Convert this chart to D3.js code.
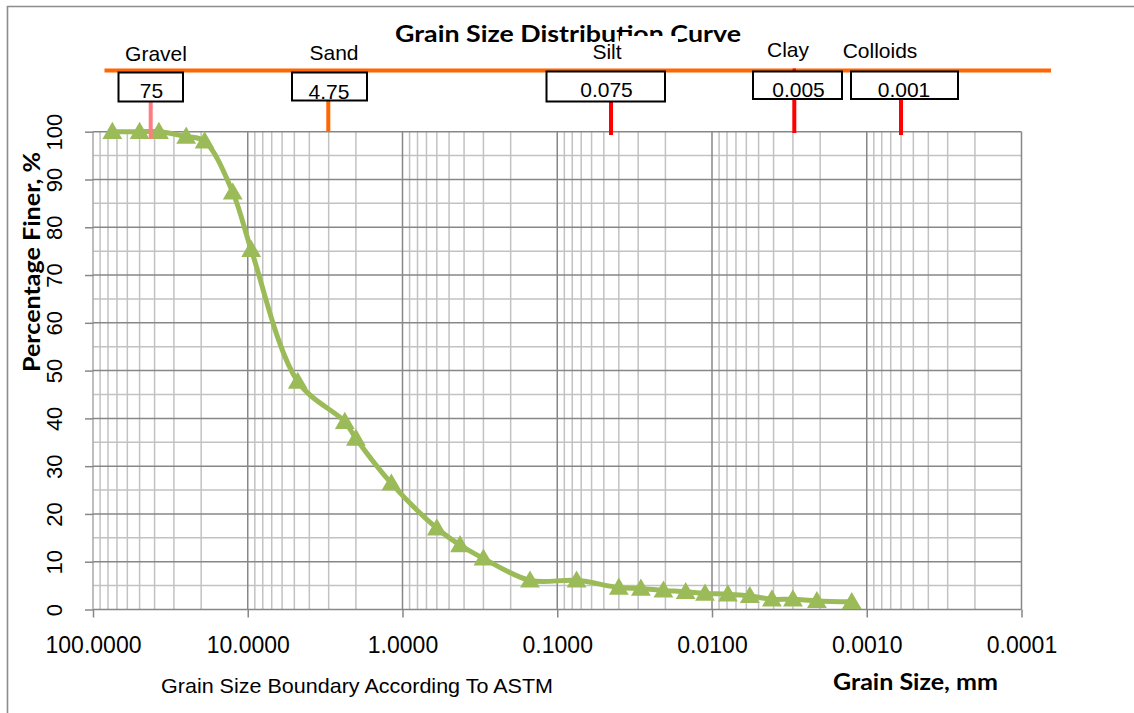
<!DOCTYPE html>
<html>
<head>
<meta charset="utf-8">
<script src="https://cdn.jsdelivr.net/npm/d3@7"></script>
<style>
  html, body { margin: 0; padding: 0; background: #fff; }
  svg { display: block; }
</style>
</head>
<body>
<svg id="chart" width="1134" height="713"></svg>
<script>
// Sieve / hydrometer results: grain size (mm) and percentage passing
const grainSizeMm = [75, 50, 37.5, 25, 19, 12.5, 9.5, 4.75, 2.36, 2.0, 1.18, 0.6, 0.425, 0.3,
  0.15, 0.075, 0.04, 0.0288, 0.0206, 0.0148, 0.0111, 0.0079, 0.0057, 0.0041, 0.003, 0.0021, 0.00125];
const percentFiner = [100, 100, 100, 99, 98, 87.3, 75.3, 47.7, 39.3, 35.8, 26.4, 17, 13.5, 10.7,
  6.1, 6.1, 4.6, 4.4, 4.0, 3.7, 3.35, 3.2, 2.85, 2.15, 2.15, 1.8, 1.6];

// Axis ticks
const xTickValues = [100, 10, 1, 0.1, 0.01, 0.001, 0.0001];
const yTickValues = [0, 10, 20, 30, 40, 50, 60, 70, 80, 90, 100];
const yMinorValues = [5, 15, 25, 35, 45, 55, 65, 75, 85, 95];

// ASTM boundary classes and their limiting sizes
const soilClasses = ["Gravel", "Sand", "Silt", "Clay", "Colloids"];
const boundaryLabels = ["75", "4.75", "0.075", "0.005", "0.001"];

// Placement of the ASTM boundary call-outs above the plot
const classLabelLayout = [
  { cx: 156, y: 61 }, { cx: 334, y: 60 }, { cx: 607, y: 59 }, { cx: 788, y: 57 }, { cx: 880, y: 58 }
];
const boundaryBoxLayout = [
  { x0: 118.5, x1: 183, y0: 72.5, y1: 101.5, tx: 151.5, ty: 98, lx: 150.7, ly1: 139, color: "#ff7c80" },
  { x0: 292, x1: 367, y0: 72.5, y1: 100.5, tx: 329, ty: 99, lx: 328.3, ly1: 132, color: "#ff6600" },
  { x0: 546.5, x1: 665, y0: 71.5, y1: 101.5, tx: 606.5, ty: 97, lx: 611, ly1: 135, color: "#ff0000" },
  { x0: 753, x1: 842, y0: 71.5, y1: 99, tx: 798.5, ty: 97, lx: 794.3, ly1: 133, color: "#ff0000" },
  { x0: 851, x1: 958, y0: 71.5, y1: 99, tx: 904, ty: 97, lx: 901, ly1: 135, color: "#ff0000" }
];

const svg = d3.select("#chart");
const W = 1134, H = 713;
const plot = { left: 93, right: 1021.5, top: 131.7, bottom: 609.5 };

svg.append("rect").attr("width", W).attr("height", H).attr("fill", "#fff");

// Chart frame
svg.append("path")
  .attr("d", `M7.5,${H} V6.5 H${W}`)
  .attr("fill", "none").attr("stroke", "#8c8c8c").attr("stroke-width", 1.6);

const x = d3.scaleLog().domain([100, 0.0001]).range([plot.left, plot.right]);
const y = d3.scaleLinear().domain([0, 100]).range([plot.bottom, plot.top]);

const MAJOR = "#878787", MINOR = "#c2c2c2";

// Minor vertical grid: 2..9 within each decade
const xMinor = [];
for (let e = -4; e < 2; e++) {
  for (let m = 2; m <= 9; m++) xMinor.push(m * Math.pow(10, e));
}
const grid = svg.append("g");
grid.selectAll("line.xminor").data(xMinor).join("line")
  .attr("x1", d => x(d)).attr("x2", d => x(d))
  .attr("y1", plot.top).attr("y2", plot.bottom)
  .attr("stroke", MINOR).attr("stroke-width", 1.5);
grid.selectAll("line.yminor").data(yMinorValues).join("line")
  .attr("x1", plot.left).attr("x2", plot.right)
  .attr("y1", d => y(d)).attr("y2", d => y(d))
  .attr("stroke", MINOR).attr("stroke-width", 1.5);
grid.selectAll("line.xmajor").data(xTickValues).join("line")
  .attr("x1", d => x(d)).attr("x2", d => x(d))
  .attr("y1", plot.top).attr("y2", plot.bottom)
  .attr("stroke", (d, i) => (i === 0 ? "#a8a8a8" : MAJOR)).attr("stroke-width", 1.5);
grid.selectAll("line.ymajor").data(yTickValues).join("line")
  .attr("x1", plot.left).attr("x2", plot.right)
  .attr("y1", d => y(d)).attr("y2", d => y(d))
  .attr("stroke", MAJOR).attr("stroke-width", 1.5);

// X axis
const xAxis = svg.append("g")
  .attr("transform", `translate(0,${plot.bottom})`)
  .call(d3.axisBottom(x).tickValues(xTickValues).tickSize(8).tickFormat(d3.format(".4f")));
xAxis.select(".domain").remove();
xAxis.selectAll(".tick line").attr("stroke", MAJOR).attr("stroke-width", 1.5);
xAxis.selectAll(".tick text")
  .attr("y", 43.5).attr("dy", 0)
  .attr("font-family", "'Liberation Sans', Arial, sans-serif")
  .attr("font-size", 23).attr("fill", "#000");

// Y axis with labels rotated
const yAxis = svg.append("g")
  .attr("transform", `translate(${plot.left},0)`)
  .call(d3.axisLeft(y).tickValues(yTickValues).tickSize(8));
yAxis.select(".domain").remove();
yAxis.selectAll(".tick line").attr("stroke", MAJOR).attr("stroke-width", 1.5);
yAxis.selectAll(".tick text")
  .attr("transform", "rotate(-90)")
  .attr("x", 0).attr("y", -31).attr("dy", 0)
  .attr("text-anchor", "middle")
  .attr("font-family", "'Liberation Sans', Arial, sans-serif")
  .attr("font-size", 22).attr("fill", "#000");

// Gradation curve
const pts = grainSizeMm.map((d, i) => [d, percentFiner[i]]);
const line = d3.line()
  .x(d => x(d[0])).y(d => y(d[1]))
  .curve(d3.curveCatmullRom.alpha(0.5));
svg.append("path").datum(pts)
  .attr("d", line)
  .attr("fill", "none").attr("stroke", "#9bbb59")
  .attr("stroke-width", 5).attr("stroke-linejoin", "round");

const tri = d3.symbol().type(d3.symbolTriangle).size(170);
svg.append("g").selectAll("path").data(pts).join("path")
  .attr("d", tri)
  .attr("transform", d => `translate(${x(d[0])},${y(d[1]) + 1.5})`)
  .attr("fill", "#9bbb59");

// Title
svg.append("text")
  .attr("x", 395).attr("y", 41.7)
  .attr("textLength", 346).attr("lengthAdjust", "spacingAndGlyphs")
  .attr("font-family", "Lato, 'Open Sans', sans-serif").attr("font-weight", "bold")
  .attr("font-size", 23).attr("fill", "#000")
  .text("Grain Size Distribution Curve");

// Axis titles
svg.append("text")
  .attr("transform", "translate(40,262) rotate(-90)")
  .attr("text-anchor", "middle")
  .attr("textLength", 220).attr("lengthAdjust", "spacingAndGlyphs")
  .attr("font-family", "Lato, 'Open Sans', sans-serif").attr("font-weight", "bold")
  .attr("font-size", 22).attr("fill", "#000")
  .text("Percentage Finer, %");

svg.append("text")
  .attr("x", 833).attr("y", 690)
  .attr("textLength", 165).attr("lengthAdjust", "spacingAndGlyphs")
  .attr("font-family", "Lato, 'Open Sans', sans-serif").attr("font-weight", "bold")
  .attr("font-size", 22).attr("fill", "#000")
  .text("Grain Size, mm");

svg.append("text")
  .attr("x", 161).attr("y", 693)
  .attr("textLength", 392).attr("lengthAdjust", "spacingAndGlyphs")
  .attr("font-family", "'Liberation Sans', Arial, sans-serif")
  .attr("font-size", 21).attr("fill", "#000")
  .text("Grain Size Boundary According To ASTM");

// ASTM boundary call-outs
const ann = svg.append("g");
ann.append("line")
  .attr("x1", 104.5).attr("x2", 1051).attr("y1", 70.5).attr("y2", 70.5)
  .attr("stroke", "#ff6600").attr("stroke-width", 4);

// white text frame behind the Silt label
ann.append("rect").attr("x", 620).attr("y", 36).attr("width", 58).attr("height", 30).attr("fill", "#fff");

ann.selectAll("text.cls").data(soilClasses).join("text")
  .attr("x", (d, i) => classLabelLayout[i].cx).attr("y", (d, i) => classLabelLayout[i].y)
  .attr("text-anchor", "middle")
  .attr("font-family", "'Liberation Sans', Arial, sans-serif")
  .attr("font-size", 21).attr("fill", "#000")
  .text(d => d);

// small red mark where the clay boundary meets the class line
ann.append("line").attr("x1", 794.3).attr("x2", 794.3).attr("y1", 68.5).attr("y2", 72)
  .attr("stroke", "#ff0000").attr("stroke-width", 3.5);

const boxes = ann.selectAll("g.box").data(boundaryLabels).join("g");
boxes.append("line")
  .attr("x1", (d, i) => boundaryBoxLayout[i].lx).attr("x2", (d, i) => boundaryBoxLayout[i].lx)
  .attr("y1", (d, i) => boundaryBoxLayout[i].y1).attr("y2", (d, i) => boundaryBoxLayout[i].ly1)
  .attr("stroke", (d, i) => boundaryBoxLayout[i].color).attr("stroke-width", 4);
boxes.append("rect")
  .attr("x", (d, i) => boundaryBoxLayout[i].x0).attr("y", (d, i) => boundaryBoxLayout[i].y0)
  .attr("width", (d, i) => boundaryBoxLayout[i].x1 - boundaryBoxLayout[i].x0)
  .attr("height", (d, i) => boundaryBoxLayout[i].y1 - boundaryBoxLayout[i].y0)
  .attr("fill", "#fff").attr("stroke", "#000").attr("stroke-width", 2);
boxes.append("text")
  .attr("x", (d, i) => boundaryBoxLayout[i].tx).attr("y", (d, i) => boundaryBoxLayout[i].ty)
  .attr("text-anchor", "middle")
  .attr("font-family", "'Liberation Sans', Arial, sans-serif")
  .attr("font-size", 21).attr("fill", "#000")
  .text(d => d);
</script>
</body>
</html>
